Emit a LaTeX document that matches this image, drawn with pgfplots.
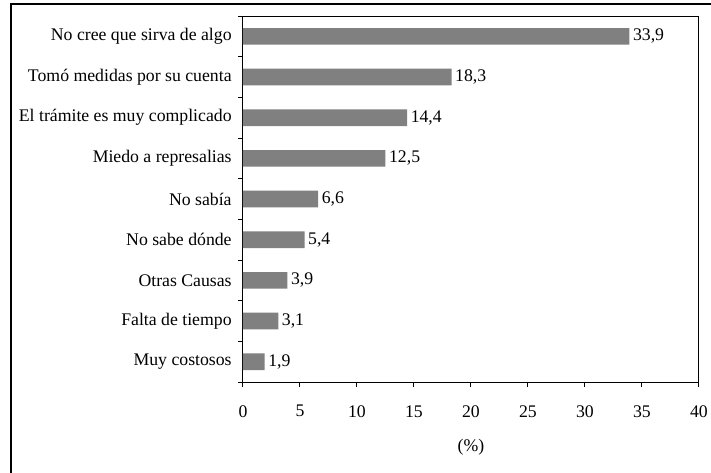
\documentclass[border=0pt]{standalone}
\usepackage{pgfplots}
\pgfplotsset{compat=1.18}
\usepackage{fontspec}
\setmainfont{Liberation Serif}
\definecolor{barg}{RGB}{128,128,128}
\begin{document}
\begin{tikzpicture}
\path[use as bounding box] (-182.25pt,-67.5pt) rectangle (351pt,286.5pt);
\begin{axis}[
  at={(0,0)}, anchor=south west,
  scale only axis, width=342pt, height=274.5pt,
  xmin=0, xmax=40, ymin=-0.5, ymax=8.5,
  xbar, bar width=12.5pt,
  /pgf/number format/assume math mode=true,
  xtick={0,5,...,40}, minor xtick={0,5,...,40},
  ytick={0,...,8},
  yticklabels={Muy costosos, Falta de tiempo, Otras Causas, No sabe dónde, No sabía, Miedo a represalias, El trámite es muy complicado, Tomó medidas por su cuenta, No cree que sirva de algo},
  minor ytick={-0.5,0.5,...,8.5},
  major tick length=0pt, minor tick length=3.75pt,
  tick align=outside, tick pos=left,
  tick style={line width=0.75pt, black},
  axis line style={line width=0.75pt},
  ticklabel style={font=\fontsize{13.3pt}{15pt}\selectfont},
  xticklabel style={yshift=-14pt},
  yticklabel style={xshift=-5pt},
  xlabel={(\%)},
  xlabel style={at={(axis description cs:0.5,0)}, anchor=center, yshift=-48.75pt, font=\fontsize{13.3pt}{15pt}\selectfont},
  point meta=x,
  nodes near coords={\pgfmathprintnumber[fixed,fixed zerofill,precision=1,use comma]{\pgfplotspointmeta}},
  nodes near coords style={anchor=west, inner sep=1.5pt, xshift=1pt, font=\fontsize{13.3pt}{15pt}\selectfont, black},
]
\addplot[fill=barg, draw=none] coordinates {
  (1.9,0) (3.1,1) (3.9,2) (5.4,3) (6.6,4) (12.5,5) (14.4,6) (18.3,7) (33.9,8)
};
\end{axis}
\draw[line width=1.2pt] (-174pt,-90pt) -- (-174pt,283.5pt) -- (370pt,283.5pt);
\end{tikzpicture}
\end{document}
